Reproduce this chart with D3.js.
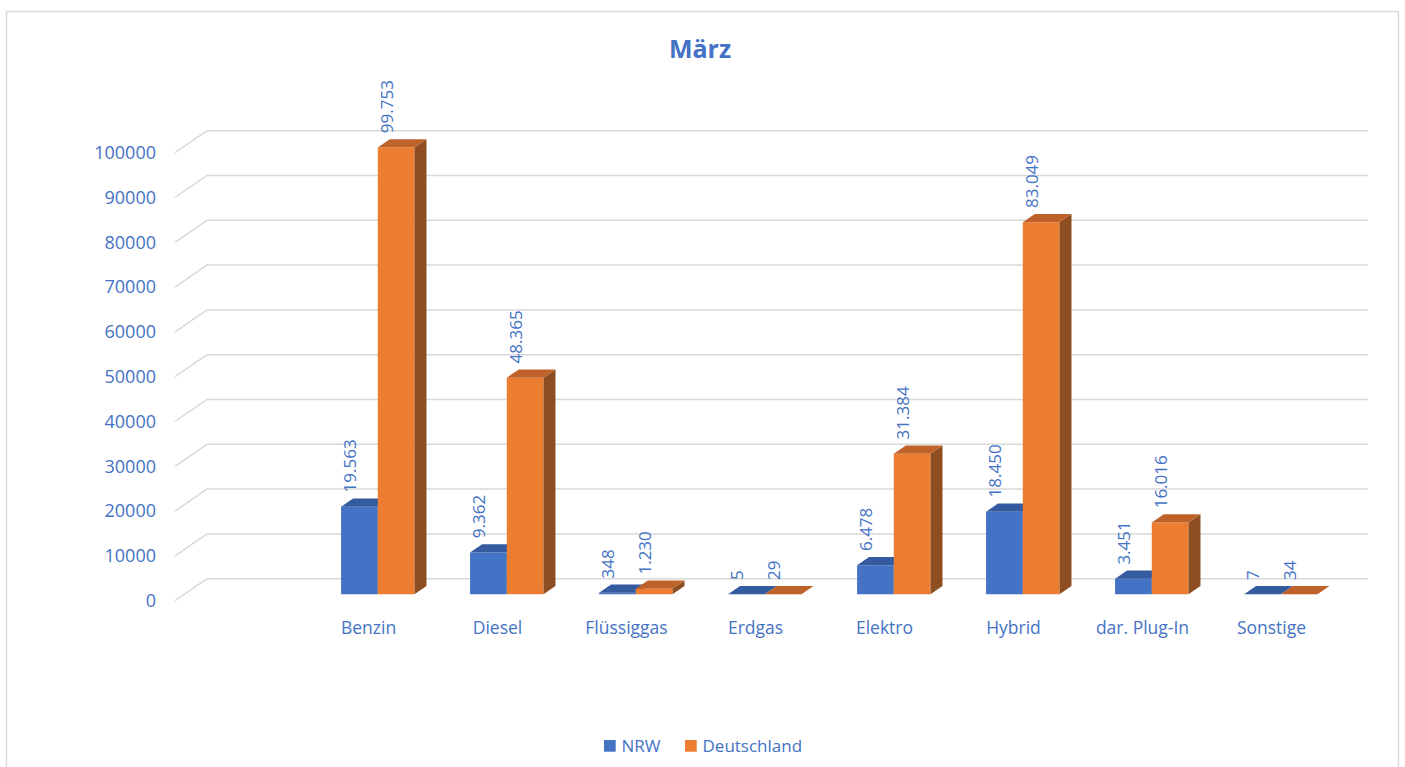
<!DOCTYPE html>
<html>
<head>
<meta charset="utf-8">
<script src="https://cdn.jsdelivr.net/npm/d3@7"></script>
<style>
    body { margin: 0; background: #fff; }
    svg text { font-family: "Open Sans", "Noto Sans", sans-serif; fill: #4472c4; }
</style>
</head>
<body>
<div id="chart"></div>
<script>
// Neuzulassungen nach Kraftstoffart, März
var categories = ["Benzin", "Diesel", "Flüssiggas", "Erdgas", "Elektro", "Hybrid", "dar. Plug-In", "Sonstige"];
var seriesNames = ["NRW", "Deutschland"];
var nrwValues = [19563, 9362, 348, 5, 6478, 18450, 3451, 7];
var deValues = [99753, 48365, 1230, 29, 31384, 83049, 16016, 34];
var yTicks = [0, 10000, 20000, 30000, 40000, 50000, 60000, 70000, 80000, 90000, 100000];

var colors = {
    NRW: { front: "#4472c4", top: "#345b9f", side: "#2c4d88" },
    Deutschland: { front: "#ed7d31", top: "#bf6229", side: "#8f4e22" }
};

var width = 1405, height = 767;

// oblique 3d: depth 0 = front edge of floor, depth 1 = back wall
var depthX = 32, depthY = 22;
var barFront = 0.29, barBack = 0.665;

var svg = d3.select("#chart").append("svg")
    .attr("width", width)
    .attr("height", height);

// chart frame
svg.append("rect")
    .attr("x", 6.5)
    .attr("y", 11.5)
    .attr("width", 1392)
    .attr("height", 780)
    .attr("fill", "none")
    .attr("stroke", "#d9d9d9")
    .attr("stroke-width", 1.5);

svg.append("text")
    .attr("x", 700)
    .attr("y", 58)
    .attr("text-anchor", "middle")
    .style("font-size", "25px")
    .style("font-weight", "bold")
    .text("März");

// scales (y maps onto the back wall)
var y = d3.scaleLinear()
    .domain([0, 100000])
    .range([578.7, 130.7]);

// first slot is empty in the original chart
var x = d3.scaleBand()
    .domain([""].concat(categories))
    .range([175, 1336]);

var xSeries = d3.scaleBand()
    .domain(seriesNames)
    .range([-36.7, 36.7]);

function pt(xf, v, t) {
    return [xf + depthX * t, y(v) + depthY * (1 - t)];
}

// gridlines with the left diagonal
var grid = svg.append("g").attr("class", "grid");
grid.selectAll("path")
    .data(yTicks)
    .enter()
    .append("path")
    .attr("d", function(d) {
        var a = pt(x.range()[0], d, 0), b = pt(x.range()[0], d, 1), c = pt(x.range()[1], d, 1);
        return "M" + a + "L" + b + "L" + c;
    })
    .attr("fill", "none")
    .attr("stroke", "#d9d9d9")
    .attr("stroke-width", 1.5);

// y axis labels
svg.append("g").selectAll("text")
    .data(yTicks)
    .enter()
    .append("text")
    .attr("x", 156)
    .attr("y", function(d) { return pt(0, d, 0)[1]; })
    .attr("dy", "0.35em")
    .attr("text-anchor", "end")
    .style("font-size", "18px")
    .text(function(d) { return d; });

// category labels
svg.append("g").selectAll("text")
    .data(categories)
    .enter()
    .append("text")
    .attr("x", function(d) { return x(d) + x.bandwidth() / 2; })
    .attr("y", 634)
    .attr("text-anchor", "middle")
    .style("font-size", "17.5px")
    .text(function(d) { return d; });

// bars
var rows = [];
categories.forEach(function(c, i) {
    rows.push({ cat: c, series: "NRW", value: nrwValues[i] });
    rows.push({ cat: c, series: "Deutschland", value: deValues[i] });
});

var de = d3.formatLocale({ decimal: ",", thousands: ".", grouping: [3], currency: ["", " €"] });
var fmt = de.format(",d");

var bars = svg.append("g").selectAll("g.bar")
    .data(rows)
    .enter()
    .append("g")
    .attr("class", "bar");

bars.each(function(d) {
    var g = d3.select(this);
    var x0 = x(d.cat) + x.bandwidth() / 2 + xSeries(d.series);
    var x1 = x0 + xSeries.bandwidth();
    var c = colors[d.series];

    var front = [pt(x0, 0, barFront), pt(x1, 0, barFront), pt(x1, d.value, barFront), pt(x0, d.value, barFront)];
    var side = [pt(x1, 0, barFront), pt(x1, 0, barBack), pt(x1, d.value, barBack), pt(x1, d.value, barFront)];
    var top = [pt(x0, d.value, barFront), pt(x1, d.value, barFront), pt(x1, d.value, barBack), pt(x0, d.value, barBack)];

    g.append("path").attr("d", "M" + front.join("L") + "Z").attr("fill", c.front);
    g.append("path").attr("d", "M" + side.join("L") + "Z").attr("fill", c.side);
    g.append("path").attr("d", "M" + top.join("L") + "Z").attr("fill", c.top);

    var lx = (x0 + x1) / 2;
    var ly = pt(x0, d.value, barBack)[1] - 6;
    g.append("text")
        .attr("transform", "translate(" + lx + "," + ly + ") rotate(-90)")
        .attr("dy", "0.35em")
        .style("font-size", "17px")
        .text(fmt(d.value));
});

// legend
var legend = svg.append("g").attr("transform", "translate(604,740)");
var legendX = [0, 81];
seriesNames.forEach(function(s, i) {
    legend.append("rect")
        .attr("x", legendX[i])
        .attr("y", 0)
        .attr("width", 11.7)
        .attr("height", 11.7)
        .attr("fill", colors[s].front);
    legend.append("text")
        .attr("x", legendX[i] + 17.5)
        .attr("y", 11.5)
        .style("font-size", "17px")
        .text(s);
});
</script>
</body>
</html>
